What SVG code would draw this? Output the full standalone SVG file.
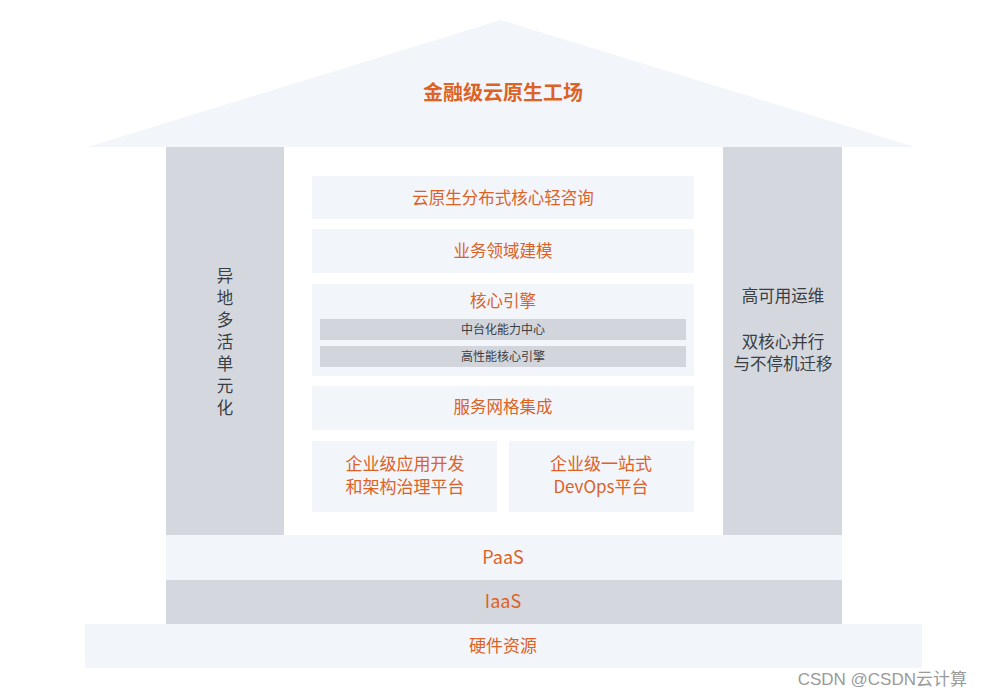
<svg xmlns="http://www.w3.org/2000/svg" width="983" height="697" viewBox="0 0 983 697">
<style>
.light{fill:#f2f5fa}
.gray{fill:#d4d8de}
.sub{fill:#d2d6dc}
.or{fill:#dd6226;font-family:"Noto Sans CJK SC","Liberation Sans",sans-serif;font-size:16.5px;text-anchor:middle}
.ttl{font-size:20px;font-weight:bold}
.big{font-size:17px}
.lay{font-size:18px}
.dk{fill:#3a3d42;font-family:"Noto Sans CJK SC","Liberation Sans",sans-serif;font-size:16.5px;text-anchor:middle}
.sm{fill:#3a3d42;font-family:"Noto Sans CJK SC","Liberation Sans",sans-serif;font-size:12px;text-anchor:middle}
</style>
<rect width="983" height="697" fill="#ffffff"/>
<g id="roof">
<polygon class="light" points="88,147 501,20 915,147"/>
<text class="or ttl" x="503" y="100">金融级云原生工场</text>
</g>
<g id="left-pillar">
<rect class="gray" x="166" y="147" width="118" height="388"/>
<text class="dk" x="225" y="282">异</text>
<text class="dk" x="225" y="304">地</text>
<text class="dk" x="225" y="326">多</text>
<text class="dk" x="225" y="348">活</text>
<text class="dk" x="225" y="370">单</text>
<text class="dk" x="225" y="392">元</text>
<text class="dk" x="225" y="414">化</text>
</g>
<g id="right-pillar">
<rect class="gray" x="723" y="147" width="119" height="388"/>
<text class="dk" x="783" y="302">高可用运维</text>
<text class="dk" x="783" y="348">双核心并行</text>
<text class="dk" x="783" y="370">与不停机迁移</text>
</g>
<g id="center">
<rect x="284" y="147" width="439" height="388" fill="#ffffff"/>
</g>
<g id="consult">
<rect class="light" x="312" y="176" width="382" height="43"/>
<text class="or" x="503" y="204">云原生分布式核心轻咨询</text>
</g>
<g id="modeling">
<rect class="light" x="312" y="229" width="382" height="44"/>
<text class="or" x="503" y="257">业务领域建模</text>
</g>
<g id="core-engine">
<rect class="light" x="312" y="284" width="382" height="92"/>
<text class="or" x="503" y="307">核心引擎</text>
<rect class="sub" x="320" y="319" width="366" height="21"/>
<text class="sm" x="503" y="334">中台化能力中心</text>
<rect class="sub" x="320" y="346" width="366" height="21"/>
<text class="sm" x="503" y="361">高性能核心引擎</text>
</g>
<g id="mesh">
<rect class="light" x="312" y="386" width="382" height="44"/>
<text class="or" x="503" y="413">服务网格集成</text>
</g>
<g id="app-dev">
<rect class="light" x="312" y="441" width="185" height="71"/>
<text class="or big" x="405" y="470">企业级应用开发</text>
<text class="or big" x="405" y="493">和架构治理平台</text>
</g>
<g id="devops">
<rect class="light" x="509" y="441" width="185" height="71"/>
<text class="or big" x="601" y="470">企业级一站式</text>
<text class="or big" x="601" y="493">DevOps平台</text>
</g>
<g id="paas">
<rect class="light" x="166" y="535" width="676" height="45"/>
<text class="or lay" x="503" y="564">PaaS</text>
</g>
<g id="iaas">
<rect class="gray" x="166" y="580" width="676" height="44"/>
<text class="or lay" x="503" y="608">IaaS</text>
</g>
<g id="hardware">
<rect class="light" x="85" y="624" width="837" height="44"/>
<text class="or big" x="503" y="652">硬件资源</text>
</g>
<g id="connectors"></g>
<text x="967" y="685" text-anchor="end" fill="#9a9a9a" font-family="'Liberation Sans','Noto Sans CJK SC',sans-serif" font-size="17">CSDN @CSDN云计算</text>
</svg>
